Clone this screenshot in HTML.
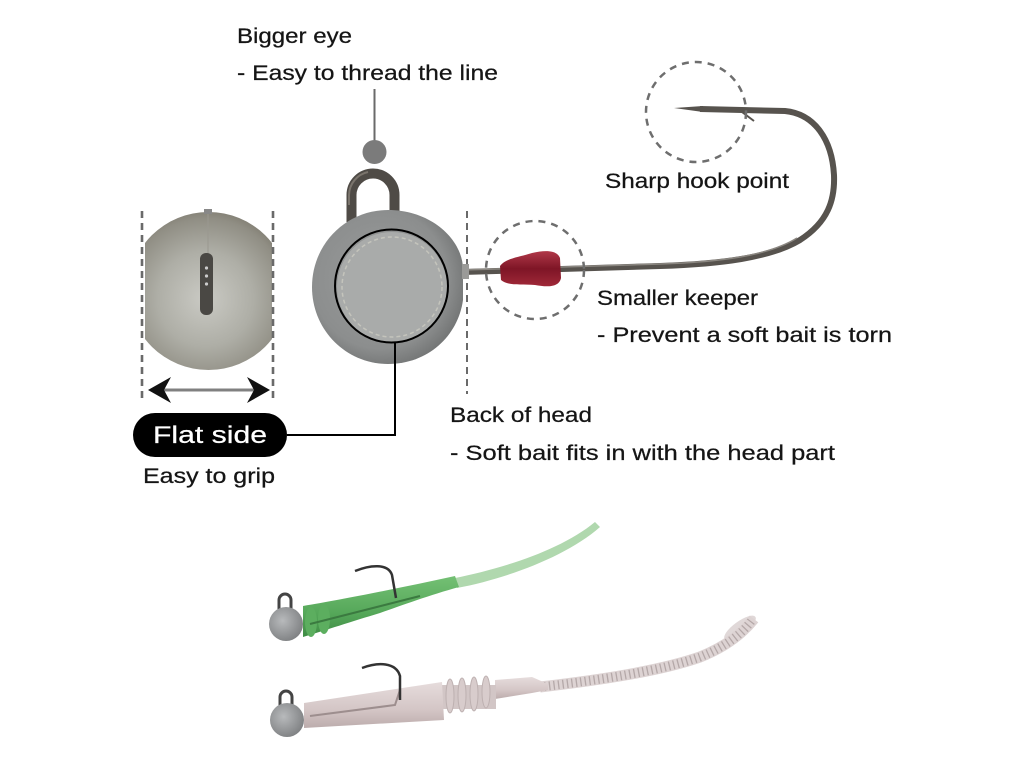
<!DOCTYPE html>
<html><head><meta charset="utf-8"><style>
html,body{margin:0;padding:0;background:#fff;}
svg{display:block;}
text{font-family:"Liberation Sans",sans-serif;fill:#151515;stroke:#151515;stroke-width:0.25;}
</style></head><body>
<svg width="1024" height="768" viewBox="0 0 1024 768" xmlns="http://www.w3.org/2000/svg">
<defs>
<radialGradient id="bead" cx="0.48" cy="0.55" r="0.6">
<stop offset="0" stop-color="#cacac4"/><stop offset="0.5" stop-color="#aeaea6"/><stop offset="0.85" stop-color="#908e84"/><stop offset="1" stop-color="#7a766a"/>
</radialGradient>
<radialGradient id="headg" cx="0.45" cy="0.45" r="0.6">
<stop offset="0" stop-color="#9a9c9c"/><stop offset="0.75" stop-color="#8c8e8e"/><stop offset="1" stop-color="#707272"/>
</radialGradient>
<radialGradient id="small" cx="0.4" cy="0.4" r="0.65">
<stop offset="0" stop-color="#b8babc"/><stop offset="1" stop-color="#7e8082"/>
</radialGradient>
<linearGradient id="keep" x1="0" y1="0" x2="0" y2="1">
<stop offset="0" stop-color="#b03848"/><stop offset="0.5" stop-color="#7e1526"/><stop offset="1" stop-color="#a02838"/>
</linearGradient>
<linearGradient id="pink" x1="0" y1="0" x2="0" y2="1">
<stop offset="0" stop-color="#e6dcdc"/><stop offset="0.6" stop-color="#d4c6c6"/><stop offset="1" stop-color="#bcacac"/>
</linearGradient>
<linearGradient id="green" x1="0" y1="0" x2="0" y2="1">
<stop offset="0" stop-color="#74c074"/><stop offset="0.6" stop-color="#56a85a"/><stop offset="1" stop-color="#3f8c45"/>
</linearGradient>
<clipPath id="beadclip"><rect x="145" y="200" width="127" height="180"/></clipPath>
</defs>

<!-- Texts -->
<text x="237" y="43" font-size="21" textLength="115" lengthAdjust="spacingAndGlyphs">Bigger eye</text>
<text x="237" y="80" font-size="21" textLength="261" lengthAdjust="spacingAndGlyphs">- Easy to thread the line</text>
<text x="605" y="188" font-size="21" textLength="184" lengthAdjust="spacingAndGlyphs">Sharp hook point</text>
<text x="597" y="305" font-size="21" textLength="161" lengthAdjust="spacingAndGlyphs">Smaller keeper</text>
<text x="597" y="342" font-size="21" textLength="295" lengthAdjust="spacingAndGlyphs">- Prevent a soft bait is torn</text>
<text x="450" y="422" font-size="21" textLength="142" lengthAdjust="spacingAndGlyphs">Back of head</text>
<text x="450" y="460" font-size="21" textLength="385" lengthAdjust="spacingAndGlyphs">- Soft bait fits in with the head part</text>
<text x="143" y="483" font-size="21" textLength="132" lengthAdjust="spacingAndGlyphs">Easy to grip</text>

<!-- Eye callout -->
<line x1="374.5" y1="89" x2="374.5" y2="142" stroke="#6a6a6a" stroke-width="2"/>
<circle cx="374.5" cy="152" r="12" fill="#7b7b7b"/>

<!-- Bead (left) -->
<g clip-path="url(#beadclip)">
<ellipse cx="208.5" cy="291" rx="80" ry="79" fill="url(#bead)"/>
</g>
<rect x="204" y="209" width="8" height="5" fill="#888"/>
<line x1="208" y1="214" x2="208" y2="255" stroke="#9a9890" stroke-width="1"/>
<rect x="200" y="253" width="13" height="62" rx="6" fill="#4a4844"/>
<circle cx="206.5" cy="268" r="1.6" fill="#ccc"/>
<circle cx="206.5" cy="276" r="1.6" fill="#ccc"/>
<circle cx="206.5" cy="284" r="1.6" fill="#ccc"/>
<!-- dashed lines -->
<line x1="142" y1="211" x2="142" y2="398" stroke="#6a6a6a" stroke-width="2.6" stroke-dasharray="7,5"/>
<line x1="273" y1="211" x2="273" y2="398" stroke="#6a6a6a" stroke-width="2.6" stroke-dasharray="7,5"/>
<line x1="467" y1="211" x2="467" y2="394" stroke="#6a6a6a" stroke-width="2" stroke-dasharray="7,5"/>
<!-- double arrow -->
<line x1="162" y1="390" x2="256" y2="390" stroke="#808080" stroke-width="3"/>
<polygon points="148,390 171,377 164,390 171,403" fill="#111"/>
<polygon points="270,390 247,377 254,390 247,403" fill="#111"/>

<!-- Big jig head eye -->
<path d="M351.5,222 L351.5,195 A21.5,21.5 0 0 1 394.5,195 L394.5,212" fill="none" stroke="#4f4b46" stroke-width="10"/>
<path d="M349,205 L349,195 A24,24 0 0 1 368,172" fill="none" stroke="#7a746c" stroke-width="2"/>
<!-- hook shaft -->
<path d="M462,272 L660,266 C720,264 770,258 800,240 C828,222 835,200 834,175 C832,140 815,114 785,111 L700,109" fill="none" stroke="#57534e" stroke-width="6"/>
<path d="M462,270 L660,264 C720,262 768,256 797,238" fill="none" stroke="#8a8680" stroke-width="1.5"/>
<polygon points="703,106 674,108 703,112" fill="#57534e"/>
<path d="M738,109 L754,121" stroke="#57534e" stroke-width="2"/>
<!-- head -->
<path d="M388,210 C432,210 462,240 463,268 L463,300 C458,336 428,364 388,364 C346,364 312,330 312,287 C312,244 346,210 388,210 Z" fill="url(#headg)"/>
<rect x="462" y="264" width="7" height="15" fill="#9a9a98"/>
<circle cx="392" cy="287" r="55" fill="#a9abaa"/>
<circle cx="392" cy="287" r="50" fill="none" stroke="#c4c4bc" stroke-width="1.5" stroke-dasharray="4,3"/>
<circle cx="391.5" cy="286" r="56.5" fill="none" stroke="#000" stroke-width="2"/>
<!-- keeper -->
<path d="M500,266 C506,258 520,257 532,253 C545,250 557,250 560,258 L561,278 C559,288 546,287 535,285 C520,284 508,286 501,280 Z" fill="url(#keep)"/>
<!-- dashed circles -->
<circle cx="535" cy="270" r="49" fill="none" stroke="#6e6e6e" stroke-width="2.5" stroke-dasharray="7,6"/>
<circle cx="696" cy="112" r="50" fill="none" stroke="#6e6e6e" stroke-width="2.5" stroke-dasharray="7,6"/>

<!-- Flat side pill & connector -->
<path d="M287,435 L395,435 L395,343" fill="none" stroke="#000" stroke-width="2"/>
<rect x="133" y="413" width="154" height="44" rx="22" fill="#000"/>
<text x="153" y="443" font-size="24" style="fill:#fff;stroke:#fff" textLength="114" lengthAdjust="spacingAndGlyphs">Flat side</text>

<!-- Lure 1 (green) -->
<path d="M455,578 C500,569 560,551 595,522 L600,527 C566,557 505,579 457,588 Z" fill="#b0d8ae"/>
<path d="M303,606 C340,600 400,588 455,576 L459,587 C430,595 400,606 380,613 C350,622 320,632 303,637 Z" fill="url(#green)"/>
<ellipse cx="311" cy="622" rx="6" ry="15" fill="#5cae5f"/>
<ellipse cx="324" cy="619" rx="6" ry="15" fill="#5cae5f"/>
<path d="M310,624 L420,596" stroke="#3b7a40" stroke-width="2" fill="none"/>
<path d="M355,571 C370,565 388,563 392,575 L396,598" stroke="#333" stroke-width="2.5" fill="none"/>
<path d="M279,612 L279,600 A6,6 0 0 1 291,600 L291,609" fill="none" stroke="#444" stroke-width="3"/>
<circle cx="286" cy="624" r="17" fill="url(#small)"/>

<!-- Lure 2 (pink/white) -->
<ellipse cx="740" cy="628" rx="19" ry="6.5" transform="rotate(-36 740 628)" fill="#e0d8d8"/>
<path d="M540,687 C600,680 660,671 700,657 C725,647 742,634 754,619" fill="none" stroke="#ddd3d3" stroke-width="11"/>
<path d="M540,687 C600,680 660,671 700,657 C725,647 742,634 752,620" fill="none" stroke="#b4a8a8" stroke-width="9" stroke-dasharray="1.3,3.2"/>
<path d="M495,680 L532,677 L548,684 L548,690 L532,693 L495,699 Z" fill="url(#pink)"/>
<rect x="442" y="685" width="54" height="24" fill="#d2c6c6"/>
<ellipse cx="450" cy="696" rx="4" ry="17" fill="#d8cccc" stroke="#bdb0b0" stroke-width="1"/>
<ellipse cx="462" cy="695" rx="4" ry="17" fill="#d8cccc" stroke="#bdb0b0" stroke-width="1"/>
<ellipse cx="474" cy="694" rx="4" ry="17" fill="#d8cccc" stroke="#bdb0b0" stroke-width="1"/>
<ellipse cx="486" cy="692" rx="4" ry="16" fill="#d8cccc" stroke="#bdb0b0" stroke-width="1"/>
<path d="M304,703 L442,682 L444,720 L304,728 Z" fill="url(#pink)"/>
<path d="M310,716 L395,705 L400,690" stroke="#9d8e8e" stroke-width="2" fill="none"/>
<path d="M362,668 C378,662 396,662 400,676 L400,700" stroke="#333" stroke-width="2.5" fill="none"/>
<path d="M280,708 L280,697 A6,6 0 0 1 292,697 L292,705" fill="none" stroke="#444" stroke-width="3"/>
<circle cx="287" cy="720" r="17" fill="url(#small)"/>
</svg>
</body></html>
